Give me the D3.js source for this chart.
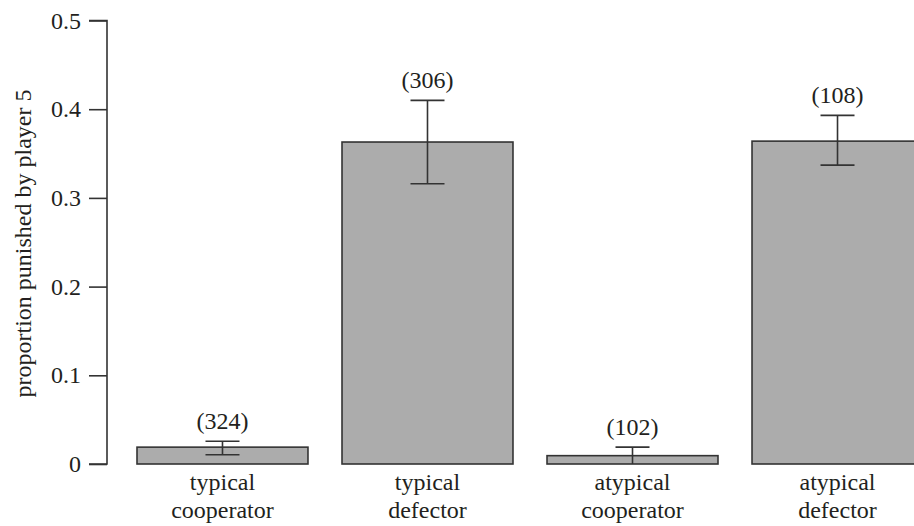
<!DOCTYPE html>
<html><head><meta charset="utf-8">
<script src="https://cdn.jsdelivr.net/npm/d3@7"></script>
<style>body{margin:0;background:#fff}svg{display:block}text{font-family:"Liberation Serif","DejaVu Serif",serif;fill:#231f20}</style>
</head><body>
<svg id="c" width="914" height="526"></svg>
<script>
const categories = [["typical","cooperator"],["typical","defector"],["atypical","cooperator"],["atypical","defector"]];
const values = [0.019, 0.363, 0.0094, 0.364];
const errLow = [0.0105, 0.316, 0, 0.337];
const errHigh = [0.0256, 0.41, 0.019, 0.393];
const counts = ["(324)","(306)","(102)","(108)"];
const yTicks = [0, 0.1, 0.2, 0.3, 0.4, 0.5];
const yTickLabels = ["0","0.1","0.2","0.3","0.4","0.5"];

const svg = d3.select("#c");
const y = d3.scaleLinear().domain([0, 0.5]).range([464, 20.5]);
const x = d3.scaleBand().domain(d3.range(categories.length)).range([137, 923]).paddingInner(0.166).paddingOuter(0);
const ink = "#333";
const FF = '"Liberation Serif","DejaVu Serif",serif';
const FS = "24px";

const yAxis = d3.axisLeft(y).tickValues(yTicks).tickFormat((d,i)=>yTickLabels[i]).tickSize(18).tickPadding(8);
const ga = svg.append("g").attr("transform","translate(107,0)").call(yAxis);
ga.attr("font-family", null).attr("font-size", null);
ga.select(".domain").attr("stroke",ink).attr("stroke-width",1.6).attr("d",`M-18,${y(0.5)}H0V${y(0)}H-18`);
ga.selectAll(".tick line").attr("stroke",ink).attr("stroke-width",1.6);
ga.selectAll(".tick text").style("font-size",FS).style("font-family",FF).attr("fill","#231f20");

svg.append("text").attr("transform",`translate(31,${(87+400)/2}) rotate(-90)`).attr("text-anchor","middle")
  .style("font-size",FS).style("font-family",FF).text("proportion punished by player 5");

const idx = d3.range(categories.length);
svg.append("g").selectAll("rect").data(idx).join("rect")
  .attr("x", i=>x(i)).attr("width", x.bandwidth())
  .attr("y", i=>y(values[i])).attr("height", i=>y(0)-y(values[i]))
  .attr("fill","#acacac").attr("stroke",ink).attr("stroke-width",1.6);

const eg = svg.append("g").attr("stroke",ink).attr("stroke-width",1.6);
idx.forEach(i=>{
  const cx = x(i)+x.bandwidth()/2;
  eg.append("line").attr("x1",cx).attr("x2",cx).attr("y1",y(errLow[i])).attr("y2",y(errHigh[i]));
  eg.append("line").attr("x1",cx-17).attr("x2",cx+17).attr("y1",y(errHigh[i])).attr("y2",y(errHigh[i]));
  if (errLow[i] > 0) eg.append("line").attr("x1",cx-17).attr("x2",cx+17).attr("y1",y(errLow[i])).attr("y2",y(errLow[i]));
  svg.append("text").attr("x",cx).attr("y",y(errHigh[i])-12).attr("text-anchor","middle").style("font-size",FS).style("font-family",FF).text(counts[i]);
  categories[i].forEach((t,j)=>{
    svg.append("text").attr("x",cx).attr("y",490+j*28).attr("text-anchor","middle").style("font-size",FS).style("font-family",FF).text(t);
  });
});
</script>
</body></html>
